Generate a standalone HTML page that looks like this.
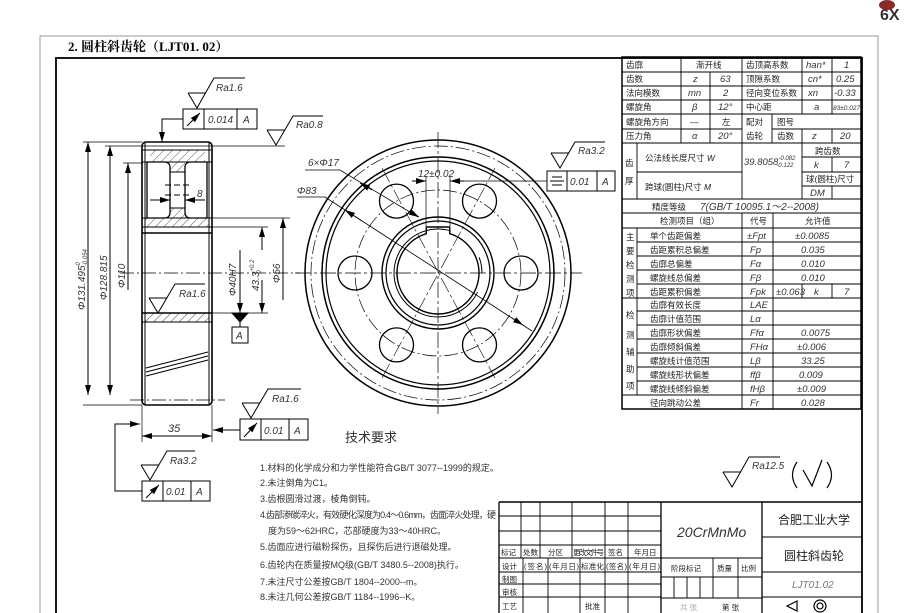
<!DOCTYPE html>
<html><head><meta charset="utf-8"><style>
html,body{margin:0;padding:0;background:#fff;}
svg{display:block;}
.c{font-family:"Liberation Sans","Noto Sans CJK SC",sans-serif;}
.i{font-family:"Liberation Sans",sans-serif;font-style:italic;}
</style></head><body>
<svg width="914" height="613" viewBox="0 0 914 613" xmlns="http://www.w3.org/2000/svg">
<defs>
<marker id="a" viewBox="0 0 10 6" refX="10" refY="3" markerWidth="10" markerHeight="6" orient="auto-start-reverse" markerUnits="userSpaceOnUse"><path d="M0,0L10,3L0,6z" fill="#000"/></marker>
<pattern id="h" width="6" height="6" patternUnits="userSpaceOnUse" patternTransform="rotate(45)"><line x1="0" y1="0" x2="0" y2="6" stroke="#222" stroke-width="0.8"/></pattern>
</defs>
<rect width="914" height="613" fill="#fff"/>
<rect x="40" y="36" width="838" height="600" fill="none" stroke="#999" stroke-width="1"/>
<rect x="56" y="58" width="806" height="580" fill="none" stroke="#000" stroke-width="1.8"/>
<text x="68" y="51" font-size="13" font-weight="bold" style="font-family:'Liberation Serif','Noto Serif CJK SC',serif">2. 圆柱斜齿轮（LJT01. 02）</text>
<text x="880" y="20" font-family="Liberation Sans,sans-serif" font-weight="bold" font-size="16" fill="#333">6X</text>
<ellipse cx="887" cy="5" rx="8" ry="5" fill="#8a2a2a"/>

<g stroke="#000" fill="none" stroke-width="1">
<rect x="150" y="150" width="55" height="12" fill="url(#h)" stroke="none"/>
<rect x="145" y="218" width="64" height="9" fill="url(#h)" stroke="none"/>
<rect x="170" y="162" width="15" height="10" fill="url(#h)" stroke="none"/>
<rect x="170" y="208" width="15" height="10" fill="url(#h)" stroke="none"/>
<rect x="145" y="313" width="64" height="9" fill="url(#h)" stroke="none"/>
<rect x="142" y="142" width="70" height="263" rx="4" stroke-width="1.6"/>
<line x1="145" y1="142" x2="145" y2="405"/><line x1="209" y1="142" x2="209" y2="405"/>
<line x1="142" y1="150" x2="212" y2="150"/><line x1="142" y1="162" x2="212" y2="162"/>
<line x1="142" y1="218" x2="212" y2="218"/><line x1="142" y1="227" x2="212" y2="227"/>
<line x1="142" y1="233" x2="212" y2="233" stroke-width="1.4"/>
<line x1="142" y1="313" x2="212" y2="313" stroke-width="1.4"/>
<line x1="142" y1="322" x2="212" y2="322"/>
<path d="M147,162 h18 a5,5 0 0 1 5,5 v46 a5,5 0 0 1 -5,5 h-18 z" stroke-width="1.3"/>
<path d="M207,162 h-17 a5,5 0 0 0 -5,5 v46 a5,5 0 0 0 5,5 h17 z" stroke-width="1.3"/>
<line x1="170" y1="172" x2="185" y2="172"/><line x1="170" y1="208" x2="185" y2="208"/>
<line x1="165" y1="185" x2="192" y2="185" stroke-dasharray="6 3"/>
<line x1="165" y1="195" x2="192" y2="195" stroke-dasharray="6 3"/>
<line x1="150" y1="200" x2="170" y2="200" marker-end="url(#a)"/><line x1="205" y1="200" x2="185" y2="200" marker-end="url(#a)"/>
<line x1="146" y1="368" x2="208" y2="352"/><line x1="146" y1="372" x2="208" y2="356"/><line x1="146" y1="376" x2="208" y2="360"/>
<line x1="120" y1="273" x2="300" y2="273" stroke-dasharray="14 3 2 3" stroke-width="0.8"/>
<line x1="130" y1="146" x2="285" y2="146" stroke-width="0.8"/>
<line x1="130" y1="400" x2="225" y2="400" stroke-dasharray="14 3 2 3" stroke-width="0.8"/>
<line x1="83" y1="142" x2="142" y2="142" stroke-width="0.7"/><line x1="83" y1="405" x2="142" y2="405" stroke-width="0.7"/>
<line x1="105" y1="146" x2="130" y2="146" stroke-width="0.7"/>
<line x1="123" y1="163" x2="142" y2="163" stroke-width="0.7"/>
<line x1="88" y1="273" x2="88" y2="142" marker-end="url(#a)"/><line x1="88" y1="273" x2="88" y2="395" marker-end="url(#a)"/>
<line x1="110" y1="273" x2="110" y2="146" marker-end="url(#a)"/><line x1="110" y1="273" x2="110" y2="395" marker-end="url(#a)"/>
<line x1="128" y1="273" x2="128" y2="163" marker-end="url(#a)"/><line x1="128" y1="273" x2="128" y2="290"/>
<line x1="212" y1="218" x2="290" y2="218" stroke-width="0.7"/><line x1="212" y1="227" x2="268" y2="227" stroke-width="0.7"/>
<line x1="212" y1="313" x2="268" y2="313" stroke-width="0.7"/>
<line x1="283" y1="273" x2="283" y2="218" marker-end="url(#a)"/><line x1="283" y1="273" x2="283" y2="300"/>
<line x1="262" y1="250" x2="262" y2="227" marker-end="url(#a)"/><line x1="262" y1="280" x2="262" y2="313" marker-end="url(#a)"/>
<line x1="240" y1="250" x2="240" y2="313" marker-end="url(#a)"/>
<path d="M232,313 h16 l-8,9 z" fill="#000"/>
<line x1="240" y1="322" x2="240" y2="327"/>
<rect x="232" y="327" width="16" height="16"/>
<rect x="183" y="109" width="74" height="20"/><line x1="204" y1="109" x2="204" y2="129"/><line x1="237" y1="109" x2="237" y2="129"/>
<line x1="187" y1="126" x2="200" y2="113" marker-end="url(#a)"/>
<path d="M183,119 H162 V142" marker-end="url(#a)"/>
<line x1="142" y1="405" x2="142" y2="442" stroke-width="0.7"/><line x1="212" y1="405" x2="212" y2="442" stroke-width="0.7"/>
<line x1="177" y1="436" x2="142" y2="436" marker-end="url(#a)"/><line x1="177" y1="436" x2="212" y2="436" marker-end="url(#a)"/>
<rect x="240" y="419" width="68" height="21"/><line x1="261" y1="419" x2="261" y2="440"/><line x1="289" y1="419" x2="289" y2="440"/>
<line x1="244" y1="437" x2="257" y2="423" marker-end="url(#a)"/>
<line x1="240" y1="430" x2="213" y2="430" marker-end="url(#a)"/>
<rect x="142" y="481" width="68" height="20"/><line x1="163" y1="481" x2="163" y2="501"/><line x1="191" y1="481" x2="191" y2="501"/>
<line x1="146" y1="498" x2="159" y2="485" marker-end="url(#a)"/>
<path d="M142,491 H115 V424 H140" marker-end="url(#a)"/>
<path d="M188,93 H206 M188,93 L197,108 L214,78 H245"/>
<path d="M267,130 H285 M267,130 L276,145 L293,116 H323"/>
<path d="M149,298 H167 M149,298 L158,313 L175,284 H205"/>
<path d="M242,403 H260 M242,403 L251,418 L268,389 H301"/>
<path d="M141,465 H159 M141,465 L150,480 L167,451 H195"/>
<path d="M551,153 H569 M551,153 L560,168 L575,142 H605"/>
<path d="M723,472 H741 M723,472 L732,487 L749,457 H780"/>
<path d="M797,462 Q788,475 797,488 M827,462 Q836,475 827,488 M803,470 L812,486 L822,460" stroke-width="1.2"/>

<circle cx="438" cy="273" r="133" stroke-width="1.5"/>
<circle cx="438" cy="273" r="127" stroke-dasharray="14 3 2 3" stroke-width="0.7"/>
<circle cx="438" cy="273" r="116" stroke-width="1.5"/>
<circle cx="438" cy="273" r="112" stroke-width="1.2"/>
<circle cx="438" cy="273" r="83" stroke-dasharray="14 3 2 3" stroke-width="0.7"/>
<circle cx="438" cy="273" r="56" stroke-width="1.4"/>
<circle cx="438" cy="273" r="52" stroke-width="1.2"/>
<path d="M426.3,233.7 A41,41 0 1 0 449.7,233.7 V227 H426.3 Z" stroke-width="1.4"/>
<circle cx="438" cy="273" r="44" stroke-width="1" stroke-dasharray="200 40" stroke-dashoffset="-20"/>
<circle cx="521" cy="273" r="17" stroke-width="1.3"/><circle cx="355" cy="273" r="17" stroke-width="1.3"/>
<circle cx="479.5" cy="201.1" r="17" stroke-width="1.3"/><circle cx="396.5" cy="201.1" r="17" stroke-width="1.3"/>
<circle cx="479.5" cy="344.9" r="17" stroke-width="1.3"/><circle cx="396.5" cy="344.9" r="17" stroke-width="1.3"/>
<line x1="295" y1="273" x2="582" y2="273" stroke-dasharray="16 3 3 3" stroke-width="0.7"/>
<line x1="438" y1="132" x2="438" y2="414" stroke-dasharray="16 3 3 3" stroke-width="0.7"/>
<line x1="382" y1="378" x2="495" y2="168" stroke-dasharray="16 3 3 3" stroke-width="0.6"/>
<line x1="382" y1="168" x2="495" y2="378" stroke-dasharray="16 3 3 3" stroke-width="0.6"/>
<path d="M305,170 H340 L418,217" stroke-width="0.8"/>
<line x1="360" y1="183" x2="372" y2="190" marker-start="url(#a)" stroke-width="0.8"/>
<line x1="410" y1="212" x2="419" y2="217" marker-end="url(#a)" stroke-width="0.8"/>
<path d="M297,197 H325 L532,331" stroke-width="0.8"/>
<line x1="345" y1="210" x2="362" y2="221" marker-start="url(#a)" stroke-width="0.8"/>
<line x1="512" y1="318" x2="523" y2="325" marker-end="url(#a)" stroke-width="0.8"/>
<line x1="426" y1="176" x2="426" y2="226" stroke-width="0.7"/><line x1="450" y1="176" x2="450" y2="226" stroke-width="0.7"/>
<line x1="412" y1="181" x2="426" y2="181" marker-end="url(#a)"/><line x1="464" y1="181" x2="450" y2="181" marker-end="url(#a)"/>
<line x1="464" y1="181" x2="547" y2="181" stroke-width="0.8"/>
<rect x="547" y="171" width="68" height="20"/><line x1="567" y1="171" x2="567" y2="191"/><line x1="597" y1="171" x2="597" y2="191"/>
<path d="M552,177 h10 M550,181 h14 M552,185 h10" stroke-width="1"/>
</g>

<g class="i" font-size="10" fill="#333">
<text x="216" y="91">Ra1.6</text><text x="296" y="128">Ra0.8</text><text x="179" y="297">Ra1.6</text>
<text x="272" y="402">Ra1.6</text><text x="170" y="464">Ra3.2</text><text x="578" y="154">Ra3.2</text>
<text x="752" y="469">Ra12.5</text>
<text x="208" y="123">0.014</text><text x="243" y="123">A</text>
<text x="264" y="434">0.01</text><text x="294" y="434">A</text>
<text x="166" y="495">0.01</text><text x="196" y="495">A</text>
<text x="570" y="185">0.01</text><text x="602" y="185">A</text>
<text x="236" y="339">A</text>
<text x="168" y="432" font-size="11">35</text>
<text x="197" y="197">8</text>
<text x="308" y="166">6×Φ17</text><text x="297" y="194">Φ83</text>
<text x="418" y="177">12±0.02</text>
<text transform="translate(85,310) rotate(-90)">Φ131.495<tspan font-size="6" dy="-5">0</tspan><tspan font-size="6" dx="-4" dy="7">-0.054</tspan></text>
<text transform="translate(107,300) rotate(-90)">Φ128.815</text>
<text transform="translate(125,288) rotate(-90)">Φ110</text>
<text transform="translate(236,296) rotate(-90)">Φ40H7</text>
<text transform="translate(259,291) rotate(-90)">43.3<tspan font-size="6" dy="-5">+0.2</tspan><tspan font-size="6" dx="-14" dy="7">0</tspan></text>
<text transform="translate(280,283) rotate(-90)">Φ56</text>
</g>

<g class="c" fill="#333">
<text x="345" y="442" font-size="13">技术要求</text>
<g font-size="9">
<text x="260" y="471">1.材料的化学成分和力学性能符合GB/T 3077--1999的规定。</text>
<text x="260" y="486">2.未注倒角为C1。</text>
<text x="260" y="502">3.齿根圆滑过渡，棱角倒钝。</text>
<text x="260" y="518" textLength="236">4.齿部渗碳淬火，有效硬化深度为0.4～0.6mm，齿面淬火处理，硬</text>
<text x="268" y="534">度为59～62HRC，芯部硬度为33～40HRC。</text>
<text x="260" y="550">5.齿面应进行磁粉探伤，且探伤后进行退磁处理。</text>
<text x="260" y="568">6.齿轮内在质量按MQ级(GB/T 3480.5--2008)执行。</text>
<text x="260" y="585">7.未注尺寸公差按GB/T 1804--2000--m。</text>
<text x="260" y="600">8.未注几何公差按GB/T 1184--1996--K。</text>
</g></g>

<g stroke="#000" stroke-width="0.9" fill="none">
<rect x="622" y="57" width="239" height="352" stroke-width="1.5"/>
<path d="M622,72H861M622,86H861M622,100H861M622,114H861M622,129H742M772,129H861M622,143H861M622,199H861M622,213H861M622,228H861"/>
<path d="M681,57V143M710,72V143M742,57V199M802,57V114M802,129V143M832,57V114M832,129V143M772,114V143"/>
<path d="M637,143V199M802,143V199M637,172H742M802,157H861M802,172H861M802,186H861M832,157V172M832,186V199"/>
<path d="M637,228V395M742,213V409M773,213V409M637,242H861M637,256H861M637,270H861M637,284H861M622,298H861M637,311H861M637,325H861M637,339H861M637,353H861M637,367H861M637,381H861M622,395H861M802,284V298M832,284V298"/>
</g>
<g class="c" font-size="8.5" fill="#222">
<text x="626" y="68">齿廓</text><text x="696" y="68">渐开线</text><text x="746" y="68">齿顶高系数</text>
<text x="626" y="82">齿数</text><text x="746" y="82">顶隙系数</text>
<text x="626" y="96">法向模数</text><text x="746" y="96">径向变位系数</text>
<text x="626" y="110">螺旋角</text><text x="746" y="110">中心距</text>
<text x="626" y="125">螺旋角方向</text><text x="690" y="125">—</text><text x="722" y="125">左</text><text x="746" y="125">配对</text><text x="777" y="125">图号</text>
<text x="626" y="139">压力角</text><text x="746" y="139">齿轮</text><text x="777" y="139">齿数</text>
<text x="625" y="166">齿</text><text x="625" y="184">厚</text>
<text x="645" y="161">公法线长度尺寸 <tspan class="i">W</tspan></text>
<text x="645" y="190">跨球(圆柱)尺寸 <tspan class="i">M</tspan></text>
<text x="815" y="154">跨齿数</text><text x="806" y="182">球(圆柱)尺寸</text>
<text x="652" y="210">精度等级</text>
<text x="660" y="224">检测项目（组）</text><text x="750" y="224">代号</text><text x="805" y="224">允许值</text>
<text x="626" y="240">主</text><text x="626" y="254">要</text><text x="626" y="268">检</text><text x="626" y="282">测</text><text x="626" y="296">项</text>
<text x="650" y="239">单个齿距偏差</text><text x="650" y="253">齿距累积总偏差</text><text x="650" y="267">齿廓总偏差</text><text x="650" y="281">螺旋线总偏差</text><text x="650" y="295">齿距累积偏差</text>
<text x="626" y="318">检</text><text x="626" y="338">测</text><text x="626" y="355">辅</text><text x="626" y="372">助</text><text x="626" y="389">项</text>
<text x="650" y="308">齿廓有效长度</text><text x="650" y="322">齿廓计值范围</text><text x="650" y="336">齿廓形状偏差</text><text x="650" y="350">齿廓倾斜偏差</text><text x="650" y="364">螺旋线计值范围</text><text x="650" y="378">螺旋线形状偏差</text><text x="650" y="392">螺旋线倾斜偏差</text>
<text x="650" y="406">径向跳动公差</text>
</g>
<g class="i" font-size="9.5" fill="#333">
<text x="806" y="68">han*</text><text x="844" y="68">1</text>
<text x="693" y="82">z</text><text x="720" y="82">63</text><text x="808" y="82">cn*</text><text x="836" y="82">0.25</text>
<text x="688" y="96">mn</text><text x="723" y="96">2</text><text x="808" y="96">xn</text><text x="834" y="96">-0.33</text>
<text x="692" y="110">β</text><text x="718" y="110">12°</text><text x="814" y="110">a</text><text x="833" y="110" font-size="6.5">83±0.027</text>
<text x="692" y="139">α</text><text x="718" y="139">20°</text><text x="812" y="139">z</text><text x="840" y="139">20</text>
<text x="744" y="165">39.8058<tspan font-size="6" dy="-5">-0.082</tspan><tspan font-size="6" dx="-19" dy="7">-0.122</tspan></text>
<text x="814" y="168">k</text><text x="844" y="168">7</text><text x="810" y="196">DM</text>
<text x="700" y="210" font-size="10">7(GB/T 10095.1～2--2008)</text>
<text x="747" y="239">±Fpt</text><text x="795" y="239">±0.0085</text>
<text x="750" y="253">Fp</text><text x="801" y="253">0.035</text>
<text x="750" y="267">Fα</text><text x="801" y="267">0.010</text>
<text x="750" y="281">Fβ</text><text x="801" y="281">0.010</text>
<text x="750" y="295">Fpk</text><text x="776" y="295">±0.063</text><text x="814" y="295">k</text><text x="844" y="295">7</text>
<text x="750" y="308">LAE</text><text x="750" y="322">Lα</text>
<text x="750" y="336">Ffα</text><text x="801" y="336">0.0075</text>
<text x="750" y="350">FHα</text><text x="797" y="350">±0.006</text>
<text x="750" y="364">Lβ</text><text x="801" y="364">33.25</text>
<text x="750" y="378">ffβ</text><text x="799" y="378">0.009</text>
<text x="750" y="392">fHβ</text><text x="797" y="392">±0.009</text>
<text x="750" y="406">Fr</text><text x="801" y="406">0.028</text>
</g>

<g stroke="#000" stroke-width="0.9" fill="none">
<path d="M499,502H862" stroke-width="1.6"/>
<path d="M499,502V613M661,502V613M762,502V613" stroke-width="1.3"/>
<path d="M499,516H661M499,531H661M499,545H661M499,558H762M499,572H661M499,584H661M499,597H661M661,577H762M661,598H762M762,537H862M762,572H862M762,597H862"/>
<path d="M521,502V558M540,502V558M572,502V558M605,502V558M628,502V558"/>
<path d="M523,558V613M548,558V613M580,558V613M605,558V613M628,558V613"/>
<path d="M713,558V598M738,558V598M674,577V598M687,577V598M700,577V598"/>
</g>
<g class="c" font-size="7.5" fill="#222">
<text x="501" y="555">标记</text><text x="523" y="555">处数</text><text x="548" y="555">分区</text><text x="573" y="555" textLength="31">更改文件号</text><text x="608" y="555">签名</text><text x="634" y="555">年月日</text>
<text x="502" y="569">设计</text><text x="524" y="569" textLength="23">(签名)</text><text x="549" y="569" textLength="30">(年月日)</text><text x="581" y="569" textLength="23">标准化</text><text x="606" y="569" textLength="21">(签名)</text><text x="629" y="569" textLength="31">(年月日)</text>
<text x="502" y="582">制图</text><text x="502" y="595">审核</text><text x="502" y="609">工艺</text><text x="585" y="609">批准</text>
<text x="671" y="571">阶段标记</text><text x="717" y="571">质量</text><text x="741" y="571">比例</text>
<text x="680" y="610" fill="#aaa">共  张</text><text x="722" y="610">第  张</text>
<text x="778" y="524" font-size="12">合肥工业大学</text>
<text x="784" y="560" font-size="12">圆柱斜齿轮</text>
</g>
<g class="i" fill="#333">
<text x="677" y="537" font-size="14">20CrMnMo</text>
<text x="792" y="588" font-size="10" fill="#777">LJT01.02</text>
</g>
<g stroke="#000" fill="none" stroke-width="1.2"><path d="M797,601 l-10,5 l10,5 z"/><circle cx="820" cy="606" r="6"/><circle cx="820" cy="606" r="3"/></g>
</svg>
</body></html>
